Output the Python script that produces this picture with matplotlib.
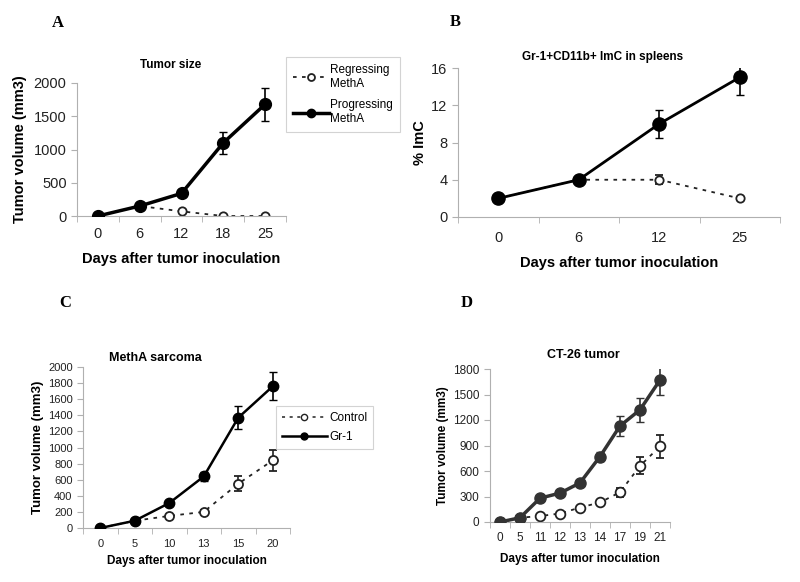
import matplotlib
matplotlib.use("Agg")
import matplotlib.pyplot as plt
from matplotlib import font_manager
from matplotlib.lines import Line2D
import numpy as np

plt.rcParams['font.family'] = ['Liberation Sans', 'DejaVu Sans']

# ---- data ----
a_days = ["0", "6", "12", "18", "25"]
a_prog = [0, 150, 340, 1100, 1680]
a_prog_err = [0, 20, 30, 165, 250]
a_regr = [0, 150, 70, 0, 0]
a_regr_err = [0, 0, 10, 0, 0]

b_days = ["0", "6", "12", "25"]
b_prog = [2, 4, 10, 15]
b_prog_err = [0.2, 0.3, 1.5, 1.9]
b_regr = [2, 4, 4, 2]
b_regr_err = [0.2, 0.3, 0.5, 0.2]

c_days = ["0", "5", "10", "13", "15", "20"]
c_gr1 = [0, 90, 310, 640, 1370, 1760]
c_gr1_err = [0, 10, 20, 60, 140, 175]
c_ctrl = [0, 90, 150, 200, 550, 840]
c_ctrl_err = [0, 10, 15, 20, 90, 135]

d_days = ["0", "5", "11", "12", "13", "14", "17", "19", "21"]
d_gr1 = [0, 50, 280, 340, 460, 770, 1130, 1320, 1670]
d_gr1_err = [0, 10, 20, 20, 25, 50, 120, 140, 170]
d_ctrl = [0, 50, 70, 100, 170, 230, 350, 660, 890]
d_ctrl_err = [0, 5, 10, 10, 15, 20, 50, 100, 135]

names = {f.name for f in font_manager.fontManager.ttflist}
NARROW = 'Liberation Sans Narrow' if 'Liberation Sans Narrow' in names else 'Liberation Sans'

W, H = 800, 582
fig = plt.figure(figsize=(8, 5.82), dpi=100)

def ax_px(l, r, t, b):
    return fig.add_axes([l / W, 1 - b / H, (r - l) / W, (b - t) / H])

GRAY = '#b0b0b0'

def style(ax, cats, ymax, yticks, tick_fs, xpad=7, tick_family=None):
    n = len(cats)
    x = np.arange(n)
    ax.set_xlim(-0.5, n - 0.5)
    ax.set_ylim(0, ymax)
    for s in ['top', 'right']:
        ax.spines[s].set_visible(False)
    for s in ['left', 'bottom']:
        ax.spines[s].set_color(GRAY)
        ax.spines[s].set_linewidth(0.8)
    ax.set_xticks(x)
    ax.set_xticklabels(cats)
    ax.set_xticks(np.arange(n + 1) - 0.5, minor=True)
    ax.tick_params(axis='x', which='major', length=0, pad=xpad, labelsize=tick_fs)
    ax.tick_params(axis='x', which='minor', length=4, color=GRAY, direction='out')
    ax.set_yticks(yticks)
    ax.tick_params(axis='y', length=4, color=GRAY, labelsize=tick_fs)
    for lab in ax.get_xticklabels() + ax.get_yticklabels():
        lab.set_color('#222222')
        if tick_family:
            lab.set_family(tick_family)
    return x

def plot_pair(ax, x, filled, ferr, open_, oerr, fcolor, fms, oms, lw):
    ax.errorbar(x, open_, yerr=oerr, color='#222222', ls=(0, (2, 3)), lw=1.3,
                marker='o', ms=oms, mfc='white', mec='#222222', mew=1.3,
                capsize=3, elinewidth=1.2, ecolor='#222222', zorder=2)
    ax.errorbar(x, filled, yerr=ferr, color=fcolor, ls='-', lw=lw,
                marker='o', ms=fms, mfc=fcolor, mec=fcolor,
                capsize=3, elinewidth=1.2, ecolor=fcolor, zorder=3)

# ---- Panel A ----
axA = ax_px(77, 286, 83, 216)
x = style(axA, a_days, 2000, [0, 500, 1000, 1500, 2000], 10.5, xpad=8)
plot_pair(axA, x, a_prog, a_prog_err, a_regr, a_regr_err, '#000000', 8.5, 6, 2.5)
axA.set_title('Tumor size', fontsize=8.5, fontweight='bold', pad=11, x=0.45)
axA.set_xlabel('Days after tumor inoculation', fontsize=10.5, fontweight='bold', labelpad=8)
axA.set_ylabel('Tumor volume (mm3)', fontsize=10.5, fontweight='bold', labelpad=5)
fig.text(58 / W, 1 - 23 / H, 'A', fontsize=12, fontweight='bold', family='Liberation Serif', va='center', ha='center')

hA = [Line2D([], [], color='#222222', ls=(0, (2, 3)), lw=1.3, marker='o', ms=5, mfc='white', mec='#222222', mew=1.3),
      Line2D([], [], color='black', ls='-', lw=2.5, marker='o', ms=6, mfc='black')]
legA = fig.legend(hA, ['Regressing\nMethA', 'Progressing\nMethA'],
                  loc='upper left', bbox_to_anchor=(286 / W, 1 - 57 / H), borderaxespad=0,
                  fontsize=8.5, frameon=True, fancybox=False, edgecolor='#c8c8c8',
                  handlelength=3.0, handletextpad=0.1, borderpad=0.6, labelspacing=0.8)
legA.get_frame().set_linewidth(0.8)

# ---- Panel B ----
axB = ax_px(458, 780, 68, 217)
x = style(axB, b_days, 16, [0, 4, 8, 12, 16], 10.5, xpad=10)
plot_pair(axB, x, b_prog, b_prog_err, b_regr, b_regr_err, '#000000', 9.5, 6, 2)
axB.set_title('Gr-1+CD11b+ ImC in spleens', fontsize=8.5, fontweight='bold', pad=6, x=0.45)
axB.set_xlabel('Days after tumor inoculation', fontsize=10.5, fontweight='bold', labelpad=8)
axB.set_ylabel('% ImC', fontsize=10.5, fontweight='bold', labelpad=3)
fig.text(455 / W, 1 - 22 / H, 'B', fontsize=12, fontweight='bold', family='Liberation Serif', va='center', ha='center')

# ---- Panel C ----
axC = ax_px(83, 290, 367, 528)
x = style(axC, c_days, 2000, list(range(0, 2001, 200)), 8, xpad=8, tick_family=NARROW)
plot_pair(axC, x, c_gr1, c_gr1_err, c_ctrl, c_ctrl_err, '#000000', 7.5, 6.5, 1.8)
axC.set_title('MethA sarcoma', fontsize=9, fontweight='bold', pad=4, x=0.35)
axC.set_xlabel('Days after tumor inoculation', fontsize=8.5, fontweight='bold', labelpad=4)
axC.set_ylabel('Tumor volume (mm3)', fontsize=9.5, fontweight='bold', labelpad=3)
fig.text(65 / W, 1 - 303 / H, 'C', fontsize=12, fontweight='bold', family='Liberation Serif', va='center', ha='center')

hC = [Line2D([], [], color='#222222', ls=(0, (2, 3)), lw=1.1, marker='o', ms=4.5, mfc='white', mec='#222222', mew=1),
      Line2D([], [], color='black', ls='-', lw=1.8, marker='o', ms=5, mfc='black')]
legC = fig.legend(hC, ['Control', 'Gr-1'],
                  loc='upper left', bbox_to_anchor=(276 / W, 1 - 406 / H), borderaxespad=0,
                  fontsize=8.5, frameon=True, fancybox=False, edgecolor='#c8c8c8',
                  handlelength=3.8, handletextpad=0.2, borderpad=0.5, labelspacing=0.6)
legC.get_frame().set_linewidth(0.8)

# ---- Panel D ----
axD = ax_px(490, 670, 369, 522)
x = style(axD, d_days, 1800, [0, 300, 600, 900, 1200, 1500, 1800], 8.5)
plot_pair(axD, x, d_gr1, d_gr1_err, d_ctrl, d_ctrl_err, '#333333', 8, 7, 2.5)
axD.set_title('CT-26 tumor', fontsize=9, fontweight='bold', pad=8, x=0.52)
axD.set_xlabel('Days after tumor inoculation', fontsize=8.5, fontweight='bold', labelpad=7)
axD.set_ylabel('Tumor volume (mm3)', fontsize=8.5, fontweight='bold', labelpad=3)
fig.text(467 / W, 1 - 303 / H, 'D', fontsize=12, fontweight='bold', family='Liberation Serif', va='center', ha='center')

fig.savefig('out.png', dpi=100, facecolor='white')
